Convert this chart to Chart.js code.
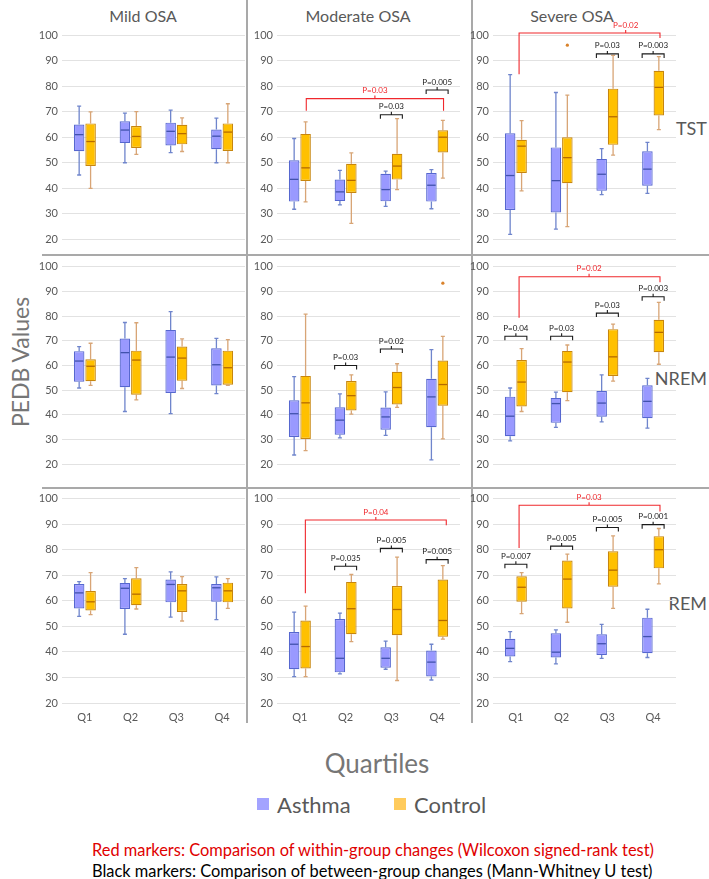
<!DOCTYPE html>
<html>
<head>
<meta charset="utf-8">
<script src="https://cdn.jsdelivr.net/npm/chart.js@4.4.1/dist/chart.umd.min.js"></script>
<style>
    body { margin: 0; width: 709px; height: 879px; position: relative; overflow: hidden; background: #fff; font-family: Lato, "Open Sans", sans-serif; }
    canvas { position: absolute; }
    .txt { position: absolute; white-space: nowrap; color: #595959; transform: translate(-50%, -50%); }
    .left { transform: translate(0, -50%); }
    .right { transform: translate(-100%, -50%); }
    .sep { position: absolute; background: #a9a9a9; }
    .sq { position: absolute; width: 12px; height: 12px; }
</style>
</head>
<body>
<div class="sep" style="left:246px;top:0;width:2px;height:723px"></div>
<div class="sep" style="left:471px;top:0;width:2px;height:723px"></div>
<div class="sep" style="left:42px;top:254px;width:667px;height:2px"></div>
<div class="sep" style="left:42px;top:487px;width:667px;height:2px"></div>

<div class="txt" style="left:143px;top:15px;font-size:16px">Mild OSA</div>
<div class="txt" style="left:358px;top:15px;font-size:16px">Moderate OSA</div>
<div class="txt" style="left:572px;top:15px;font-size:16px">Severe OSA</div>

<div class="txt right" style="left:707px;top:128px;font-size:18px">TST</div>
<div class="txt right" style="left:707px;top:378px;font-size:18px">NREM</div>
<div class="txt right" style="left:707px;top:603px;font-size:18px">REM</div>

<div class="txt" style="left:20px;top:362px;font-size:23px;color:#767676;transform:translate(-50%,-50%) rotate(-90deg)">PEDB Values</div>
<div class="txt" style="left:377px;top:763px;font-size:26px;color:#767676">Quartiles</div>

<div class="sq" style="left:257px;top:798px;background:#a3a3ff"></div>
<div class="txt left" style="left:277px;top:804px;font-size:22px">Asthma</div>
<div class="sq" style="left:394px;top:798px;background:#ffcb5c"></div>
<div class="txt left" style="left:414px;top:804px;font-size:22px">Control</div>

<div class="txt left" style="left:92px;top:849px;font-size:16.4px;color:#e00000">Red markers: Comparison of within-group changes (Wilcoxon signed-rank test)</div>
<div class="txt left" style="left:92px;top:870px;font-size:16.4px;color:#000">Black markers: Comparison of between-group changes (Mann-Whitney U test)</div>

<script>
const quartiles = ["Q1", "Q2", "Q3", "Q4"];

// each box: [min, q1, median, q3, max]
const tstMildAsthma = [[45.2, 54.5, 61, 65, 72.2], [50, 57.7, 62.8, 66.2, 69.4], [54, 56.8, 62.3, 65.7, 70.6], [50, 55.3, 60.4, 63, 67.5]];
const tstMildControl = [[40, 48.7, 58.3, 65.4, 69.9], [53.3, 55.8, 60.3, 64.4, 70], [54.4, 57.2, 61.4, 64.9, 67.6], [50, 54.6, 62, 65.4, 73.1]];
const tstModAsthma = [[31.8, 34.8, 43.5, 51, 59.5], [33.5, 35, 38.6, 43.4, 47], [32.9, 34.9, 39.5, 45.7, 46.7], [32, 34.8, 41.2, 46, 47.3]];
const tstModControl = [[34.7, 42.9, 48, 61.3, 66], [26.3, 38.2, 43.1, 49.6, 53.9], [39.5, 43.4, 48.7, 53.5, 67.3], [44, 54, 60, 62.7, 66.6]];
const tstSevAsthma = [[22, 31.5, 45, 61.5, 84.5], [24, 30.5, 43, 56, 77.5], [37.5, 39, 45.5, 51.5, 55.5], [38, 41, 47.5, 54.5, 58]];
const tstSevControl = [[39, 46, 56.5, 59, 66.5], [25, 42, 52, 60, 76.5], [53, 57, 68, 79, 92], [63, 68.5, 79.5, 86, 91.5]];

const nremMildAsthma = [[50.9, 53.4, 61.8, 65.8, 67.6], [41.4, 51.2, 65.2, 70.9, 77.4], [40.5, 48.9, 63.4, 74.4, 81.8], [48.6, 51.9, 60.3, 67, 71]];
const nremMildControl = [[52, 53.6, 59.7, 62.5, 69], [46.1, 48.2, 62.2, 66, 77.3], [50.7, 53.8, 63, 67.7, 70.8], [52, 52.2, 59.1, 66, 70.5]];
const nremModAsthma = [[23.8, 31.1, 40.5, 45.9, 55.5], [30.7, 32, 37.9, 43.1, 48.5], [31.7, 34, 39.2, 43, 49.3], [21.8, 35, 47.3, 54.6, 66.4]];
const nremModControl = [[25.6, 30.3, 44.9, 55.8, 80.8], [40.3, 41.8, 47.8, 53.7, 56.2], [43.1, 44.2, 51.1, 57.5, 60.7], [30.3, 43.7, 52.3, 62, 71.8]];
const nremSevAsthma = [[29.5, 31.4, 39.5, 47.4, 50.9], [35, 36.8, 44.6, 46.9, 49.2], [37.2, 39.3, 44.8, 49.7, 56.2], [34.7, 38.7, 45.5, 52, 54.8]];
const nremSevControl = [[41.4, 43.4, 53.3, 62.2, 66.8], [45.8, 49.2, 61.4, 65.9, 68.3], [53.7, 55.8, 63.5, 74.7, 76.7], [60.5, 65.4, 73.4, 78.5, 85.5]];

const remMildAsthma = [[53.9, 57, 63.1, 66.6, 67.5], [46.9, 56.8, 64.9, 67, 68.7], [53.6, 59.4, 66.4, 68.3, 71.3], [52.6, 59.6, 65.1, 66.6, 69.4]];
const remMildControl = [[54.6, 56.2, 59.6, 63.8, 71], [56.8, 58.3, 62.6, 68.8, 73], [52.1, 55.6, 63.9, 66.6, 69.5], [57, 59.4, 63.9, 67.1, 68.7]];
const remModAsthma = [[30.3, 33.2, 43, 47.8, 55.6], [31.4, 32, 37.5, 52.9, 55.2], [33.2, 33.8, 37.5, 41.8, 44.2], [29, 30.4, 36, 40.5, 43]];
const remModControl = [[30.3, 33.5, 42.1, 52.3, 57.9], [44, 46.9, 56.9, 67.4, 70.3], [28.8, 46.5, 56.6, 65.8, 77.1], [45, 45.9, 52.3, 68.3, 73.8]];
const remSevAsthma = [[36.2, 38.2, 41.4, 45.1, 47.9], [35.3, 37.8, 39.9, 47.3, 48.6], [37.5, 38.8, 43.2, 46.9, 50.8], [37.8, 39.5, 46, 53.4, 56.7]];
const remSevControl = [[55, 59.6, 65.3, 69.6, 71], [51.6, 57, 68.5, 75.8, 78.3], [57, 65.5, 72, 79.4, 85.4], [66.6, 72.7, 80, 85.3, 88.3]];

// outliers: [dataset (0 asthma, 1 control), quartile, value]
const tstSevOutliers = [[1, 1, 96]];
const nremModOutliers = [[1, 3, 93.3]];

// between-group markers (black): [quartile, level, label]
const tstModPairs = [[2, 68.8, "P=0.03"], [3, 78.5, "P=0.005"]];
const tstSevPairs = [[2, 92.6, "P=0.03"], [3, 92.6, "P=0.003"]];
const nremModPairs = [[1, 60, "P=0.03"], [2, 66.7, "P=0.02"]];
const nremSevPairs = [[0, 71.8, "P=0.04"], [1, 71.8, "P=0.03"], [2, 81.2, "P=0.03"], [3, 87.8, "P=0.003"]];
const remModPairs = [[1, 73.5, "P=0.035"], [2, 80.5, "P=0.005"], [3, 76.1, "P=0.005"]];
const remSevPairs = [[0, 74.3, "P=0.007"], [1, 81.4, "P=0.005"], [2, 88.7, "P=0.005"], [3, 89.8, "P=0.001"]];

// within-group markers (red): [from, to, mid, level, leftEnd, rightEnd, label]
const tstModTrend = [0.14, 3.14, 1.64, 75.1, 70.4, 70.4, "P=0.03"];
const tstSevTrend = [0.07, 3.15, 2.4, 100.8, 84.6, 98.8, "P=0.02"];
const nremSevTrend = [0.07, 3.15, 1.6, 95.9, 79.3, 93.7, "P=0.02"];
const remModTrend = [0.12, 3.2, 1.66, 91.6, 63, 89.6, "P=0.04"];
const remSevTrend = [0.07, 3.15, 1.6, 97.4, 80.7, 95, "P=0.03"];

const colLeft = [62, 277, 493];
const rowTop = [35, 264, 498];
const rowBottom = [242, 467, 703];
const padTop = [35, 8, 10];
const plotWidth = 183;
const yAxisWidth = 32;

const panels = [
    { row: 0, col: 0, asthma: tstMildAsthma, control: tstMildControl },
    { row: 0, col: 1, asthma: tstModAsthma, control: tstModControl, pairs: tstModPairs, trend: tstModTrend },
    { row: 0, col: 2, asthma: tstSevAsthma, control: tstSevControl, pairs: tstSevPairs, trend: tstSevTrend, outliers: tstSevOutliers },
    { row: 1, col: 0, asthma: nremMildAsthma, control: nremMildControl },
    { row: 1, col: 1, asthma: nremModAsthma, control: nremModControl, pairs: nremModPairs, outliers: nremModOutliers },
    { row: 1, col: 2, asthma: nremSevAsthma, control: nremSevControl, pairs: nremSevPairs, trend: nremSevTrend },
    { row: 2, col: 0, asthma: remMildAsthma, control: remMildControl },
    { row: 2, col: 1, asthma: remModAsthma, control: remModControl, pairs: remModPairs, trend: remModTrend },
    { row: 2, col: 2, asthma: remSevAsthma, control: remSevControl, pairs: remSevPairs, trend: remSevTrend }
];

function makeBoxPlot(panel) {
    return {
        id: "boxPlot",
        beforeDatasetsDraw(chart) {
            let ctx = chart.ctx;
            let y = chart.scales.y;
            chart.data.datasets.forEach((ds, i) => {
                chart.getDatasetMeta(i).data.forEach((bar, j) => {
                    let b = ds.boxes[j];
                    ctx.save();
                    ctx.strokeStyle = ds.whiskerColor;
                    ctx.lineWidth = 1.3;
                    ctx.beginPath();
                    ctx.moveTo(bar.x, y.getPixelForValue(b[0]));
                    ctx.lineTo(bar.x, y.getPixelForValue(b[1]));
                    ctx.moveTo(bar.x, y.getPixelForValue(b[3]));
                    ctx.lineTo(bar.x, y.getPixelForValue(b[4]));
                    [b[0], b[4]].forEach((v) => {
                        let yy = y.getPixelForValue(v);
                        ctx.moveTo(bar.x - 2, yy);
                        ctx.lineTo(bar.x + 2, yy);
                    });
                    ctx.stroke();
                    ctx.restore();
                });
            });
        },
        afterDatasetsDraw(chart) {
            let ctx = chart.ctx;
            let x = chart.scales.x;
            let y = chart.scales.y;
            ctx.save();
            chart.data.datasets.forEach((ds, i) => {
                chart.getDatasetMeta(i).data.forEach((bar, j) => {
                    let yy = y.getPixelForValue(ds.boxes[j][2]);
                    ctx.strokeStyle = ds.medianColor;
                    ctx.lineWidth = 1.3;
                    ctx.beginPath();
                    ctx.moveTo(bar.x - bar.width / 2 + 1, yy);
                    ctx.lineTo(bar.x + bar.width / 2 - 1, yy);
                    ctx.stroke();
                });
            });

            (panel.outliers || []).forEach((o) => {
                let bar = chart.getDatasetMeta(o[0]).data[o[1]];
                ctx.fillStyle = "#d9822b";
                ctx.beginPath();
                ctx.arc(bar.x, y.getPixelForValue(o[2]), 1.6, 0, Math.PI * 2);
                ctx.fill();
            });

            ctx.font = "8px Lato, sans-serif";
            ctx.textAlign = "center";
            ctx.textBaseline = "bottom";

            (panel.pairs || []).forEach((p) => {
                let a = chart.getDatasetMeta(0).data[p[0]];
                let c = chart.getDatasetMeta(1).data[p[0]];
                let xl = a.x - a.width / 2;
                let xr = c.x + c.width / 2;
                let xm = (xl + xr) / 2;
                let yp = y.getPixelForValue(p[1]);
                ctx.strokeStyle = "#1a1a1a";
                ctx.lineWidth = 1.1;
                ctx.beginPath();
                ctx.moveTo(xl, yp + 4);
                ctx.lineTo(xl, yp);
                ctx.lineTo(xr, yp);
                ctx.lineTo(xr, yp + 4);
                ctx.moveTo(xm, yp);
                ctx.lineTo(xm, yp - 3);
                ctx.stroke();
                ctx.fillStyle = "#1a1a1a";
                ctx.fillText(p[2], xm, yp - 4);
            });

            if (panel.trend) {
                let t = panel.trend;
                let xl = x.getPixelForValue(t[0]);
                let xr = x.getPixelForValue(t[1]);
                let xm = x.getPixelForValue(t[2]);
                let yp = y.getPixelForValue(t[3]);
                ctx.strokeStyle = "#f0282d";
                ctx.lineWidth = 1.1;
                ctx.beginPath();
                ctx.moveTo(xl, y.getPixelForValue(t[4]));
                ctx.lineTo(xl, yp);
                ctx.lineTo(xr, yp);
                ctx.lineTo(xr, y.getPixelForValue(t[5]));
                ctx.moveTo(xm, yp);
                ctx.lineTo(xm, yp - 3);
                ctx.stroke();
                ctx.fillStyle = "#f0282d";
                ctx.fillText(t[6], xm, yp - 4);
            }
            ctx.restore();
        }
    };
}

function initPanel(panel) {
    let bottomRow = panel.row === 2;
    let xAxisHeight = bottomRow ? 24 : 0;
    let padBottom = bottomRow ? 2 : 8;
    let canvas = document.createElement("canvas");
    let w = yAxisWidth + plotWidth + 2;
    let h = padTop[panel.row] + (rowBottom[panel.row] - rowTop[panel.row]) + xAxisHeight + padBottom;
    canvas.width = w;
    canvas.height = h;
    canvas.style.left = (colLeft[panel.col] - yAxisWidth) + "px";
    canvas.style.top = (rowTop[panel.row] - padTop[panel.row]) + "px";
    canvas.style.width = w + "px";
    canvas.style.height = h + "px";
    document.body.appendChild(canvas);

    new Chart(canvas.getContext("2d"), {
        type: "bar",
        data: {
            labels: quartiles,
            datasets: [
                {
                    label: "Asthma",
                    data: panel.asthma.map((b) => [b[1], b[3]]),
                    boxes: panel.asthma,
                    backgroundColor: "#9999ff",
                    borderColor: "#5667cf",
                    whiskerColor: "#6f85cc",
                    medianColor: "#4152ad",
                    borderWidth: 1.2,
                    borderSkipped: false,
                    categoryPercentage: 0.5,
                    barPercentage: 0.92
                },
                {
                    label: "Control",
                    data: panel.control.map((b) => [b[1], b[3]]),
                    boxes: panel.control,
                    backgroundColor: "#ffc000",
                    borderColor: "#c7860e",
                    whiskerColor: "#d8a576",
                    medianColor: "#b56a00",
                    borderWidth: 1.2,
                    borderSkipped: false,
                    categoryPercentage: 0.5,
                    barPercentage: 0.92
                }
            ]
        },
        options: {
            responsive: false,
            animation: false,
            events: [],
            layout: {
                padding: { left: 0, right: 2, top: padTop[panel.row], bottom: padBottom }
            },
            plugins: {
                legend: { display: false },
                tooltip: { enabled: false }
            },
            scales: {
                x: {
                    grid: { display: false },
                    border: { display: false },
                    ticks: {
                        display: bottomRow,
                        color: "#595959",
                        font: { family: "Lato", size: 11 },
                        padding: 0
                    },
                    afterFit: (scale) => {
                        scale.height = xAxisHeight;
                    }
                },
                y: {
                    min: 20,
                    max: 100,
                    grid: { color: "#e2e2e2", drawTicks: false },
                    border: { display: false },
                    ticks: {
                        stepSize: 10,
                        color: "#595959",
                        font: { family: "Lato", size: 11 },
                        padding: 4
                    },
                    afterFit: (scale) => {
                        scale.width = yAxisWidth;
                    }
                }
            }
        },
        plugins: [makeBoxPlot(panel)]
    });
}

panels.forEach(initPanel);
</script>
</body>
</html>
